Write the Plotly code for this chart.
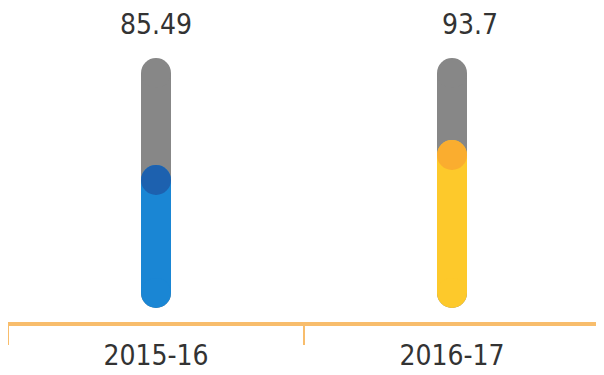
import plotly.graph_objects as go

categories = ["2015-16", "2016-17"]
values = [85.49, 93.7]
value_labels = ["85.49", "93.7"]
track_min = 48.4
track_max = 120.6

fill_colors = ["#1a86d4", "#fdc92b"]
knob_colors = ["#1f5ba8", "#f9a830"]
track_color = "#878787"
axis_color = "#f8bd6c"
text_color = "#333333"
FONT = "DejaVu Sans Condensed, Liberation Sans Narrow, Roboto, sans-serif"
W = 30

fig = go.Figure()
for i, cat in enumerate(categories):
    fig.add_trace(go.Scatter(
        x=[cat, cat], y=[track_min, track_max], mode="lines+markers",
        line=dict(color=track_color, width=W),
        marker=dict(color=track_color, size=W, line=dict(width=0)),
        hoverinfo="skip", showlegend=False))
    fig.add_trace(go.Scatter(
        x=[cat, cat], y=[track_min, values[i]], mode="lines+markers",
        line=dict(color=fill_colors[i], width=W),
        marker=dict(color=fill_colors[i], size=W, line=dict(width=0)),
        hoverinfo="skip", showlegend=False))
    fig.add_trace(go.Scatter(
        x=[cat], y=[values[i]], mode="markers",
        marker=dict(color=knob_colors[i], size=W, line=dict(width=0), opacity=0.85),
        hoverinfo="skip", showlegend=False))
    fig.add_annotation(x=cat, y=track_max, text=value_labels[i], showarrow=False,
                       yanchor="middle", yshift=49, xshift=(0 if i == 0 else 18),
                       font=dict(family=FONT, size=28, color=text_color))

fig.update_layout(
    width=596, height=367,
    margin=dict(l=0, r=4, t=0, b=53),
    paper_bgcolor="white", plot_bgcolor="white",
    xaxis=dict(type="category", range=[-0.5, 1.5], showgrid=False, zeroline=False,
               showline=True, linecolor=axis_color, linewidth=4,
               ticks="outside", tickson="boundaries", ticklen=19, tickwidth=2,
               tickcolor=axis_color, automargin=False, ticklabelstandoff=5,
               tickfont=dict(family=FONT, size=28, color=text_color)),
    yaxis=dict(range=[38.86, 141.98], visible=False, showgrid=False, zeroline=False),
)
fig.write_html("out.html")
